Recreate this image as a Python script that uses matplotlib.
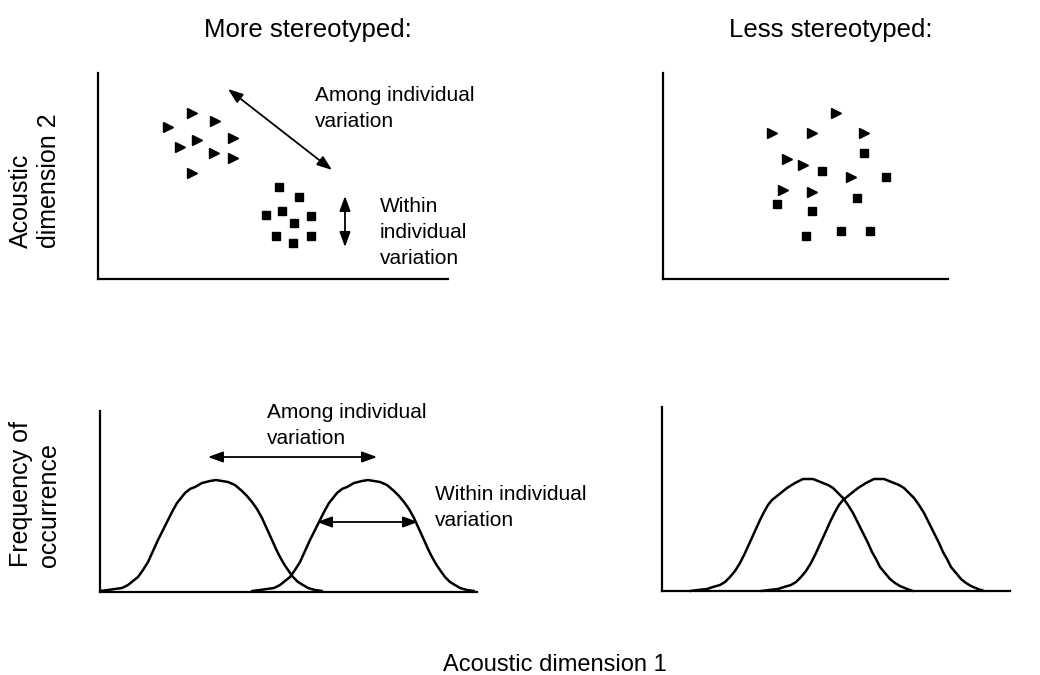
import matplotlib.pyplot as plt

plt.rcParams['font.family'] = ['Liberation Sans', 'DejaVu Sans']

# top row: scatter of individuals in acoustic space
more_tri_x = [70, 94, 117, 99, 82, 135, 116, 135, 94]
more_tri_y = [152, 166, 158, 139, 132, 141, 126, 121, 106]
more_sq_x = [181, 201, 184, 168, 213, 196, 178, 195, 213]
more_sq_y = [92, 82, 68, 64, 63, 56, 43, 36, 43]

less_tri_x = [173, 109, 149, 201, 124, 140, 188, 120, 149]
less_tri_y = [166, 146, 146, 146, 120, 114, 102, 89, 87]
less_sq_x = [201, 159, 223, 194, 114, 149, 178, 207, 143]
less_sq_y = [126, 108, 102, 81, 75, 68, 48, 48, 43]

# bottom row: frequency distributions
more_c1_x = [0, 8, 15, 22, 28, 33, 38, 43, 48, 53, 58, 63, 68, 72, 77, 81, 85, 90, 95,
             102, 110, 116, 122, 128, 135, 142, 147, 152, 157, 162, 167, 172, 176, 180,
             184, 188, 193, 198, 203, 208, 215, 222]
more_c2_x = [152, 160, 167, 174, 180, 185, 190, 195, 200, 205, 210, 215, 220, 224, 229, 233,
             237, 242, 247, 254, 262, 268, 274, 280, 287, 294, 299, 304, 309, 314, 319, 324,
             328, 332, 336, 340, 345, 350, 355, 360, 367, 374]
more_c_y = [1, 2, 3, 4, 7, 11, 15, 22, 30, 41, 52, 62, 72, 80, 89, 94, 99, 103, 105,
            109, 111, 112, 111, 110, 107, 101, 96, 90, 83, 74, 63, 52, 43, 35,
            28, 22, 15, 10, 7, 4, 2, 1]

less_c1_x = [28, 36, 45, 51, 58, 63, 68, 73, 78, 83, 88, 93, 98, 102, 106, 110, 115, 120,
             125, 133, 141, 146, 151, 156, 161, 166, 171, 176, 181, 186, 191, 196, 201,
             206, 210, 214, 218, 223, 228, 233, 238, 245, 251]
less_c2_x = [99, 107, 116, 122, 129, 134, 139, 144, 149, 154, 159, 164, 169, 173, 177, 181,
             186, 191, 196, 204, 212, 217, 222, 227, 232, 237, 242, 247, 252, 257, 262, 267,
             272, 277, 281, 285, 289, 294, 299, 304, 309, 316, 322]
less_c_y = [0, 1, 2, 4, 6, 9, 14, 20, 28, 38, 49, 60, 71, 79, 86, 91, 95, 99,
            103, 108, 112, 112, 112, 110, 108, 106, 103, 98, 93, 86, 78, 68, 58,
            48, 39, 32, 24, 18, 12, 8, 5, 2, 0]

W, H = 1040, 675
fig = plt.figure(figsize=(W / 100, H / 100), dpi=100)


def make_ax(x0, x1, y0, y1):
    ax = fig.add_axes([x0 / W, 1 - y1 / H, (x1 - x0) / W, (y1 - y0) / H])
    ax.set_xlim(0, x1 - x0)
    ax.set_ylim(0, y1 - y0)
    for s in ['top', 'right']:
        ax.spines[s].set_visible(False)
    for s in ['left', 'bottom']:
        ax.spines[s].set_linewidth(1.6)
    ax.set_xticks([])
    ax.set_yticks([])
    return ax


arrow = dict(arrowstyle='<|-|>,head_length=0.6,head_width=0.22', color='black',
             lw=1.3, shrinkA=0, shrinkB=0, mutation_scale=15)
fs = 15
ls = 1.45
curve = dict(color='black', lw=1.8, clip_on=False, solid_joinstyle='round', solid_capstyle='round')

ax1 = make_ax(98, 448, 73, 279)
ax1.plot(more_tri_x, more_tri_y, '>', color='black', ms=6.5, clip_on=False)
ax1.plot(more_sq_x, more_sq_y, 's', color='black', ms=5.5, clip_on=False)
ax1.annotate('', xy=(130, 190), xytext=(234, 109), arrowprops=arrow)
ax1.annotate('', xy=(247, 83), xytext=(247, 32), arrowprops=arrow)
ax1.text(217, 193, 'Among individual\nvariation', fontsize=fs, va='top', ha='left', linespacing=ls)
ax1.text(282, 82, 'Within\nindividual\nvariation', fontsize=fs, va='top', ha='left', linespacing=ls)

ax2 = make_ax(663, 948, 73, 279)
ax2.plot(less_tri_x, less_tri_y, '>', color='black', ms=6.5, clip_on=False)
ax2.plot(less_sq_x, less_sq_y, 's', color='black', ms=5.5, clip_on=False)

ax3 = make_ax(100, 477, 411, 592)
ax3.plot(more_c1_x, more_c_y, **curve)
ax3.plot(more_c2_x, more_c_y, **curve)
ax3.annotate('', xy=(108, 135), xytext=(277, 135), arrowprops=arrow)
ax3.annotate('', xy=(217, 70), xytext=(318, 70), arrowprops=arrow)
ax3.text(167, 189, 'Among individual\nvariation', fontsize=fs, va='top', ha='left', linespacing=ls)
ax3.text(335, 107, 'Within individual\nvariation', fontsize=fs, va='top', ha='left', linespacing=ls)

ax4 = make_ax(662, 1010, 407, 591)
ax4.plot(less_c1_x, less_c_y, **curve)
ax4.plot(less_c2_x, less_c_y, **curve)

fig.text(308 / W, 1 - 37 / H, 'More stereotyped:', fontsize=18.5, ha='center', va='baseline')
fig.text(831 / W, 1 - 37 / H, 'Less stereotyped:', fontsize=18.5, ha='center', va='baseline')
fig.text(35 / W, 1 - 248 / H, 'Acoustic\ndimension 2', fontsize=18, rotation=90,
         ha='center', va='bottom', multialignment='left')
fig.text(35 / W, 1 - 567 / H, 'Frequency of\noccurrence', fontsize=18, rotation=90,
         ha='center', va='bottom', multialignment='left')
fig.text(555 / W, 1 - 671 / H, 'Acoustic dimension 1', fontsize=17, ha='center', va='baseline')

fig.savefig('out.png', dpi=100)
